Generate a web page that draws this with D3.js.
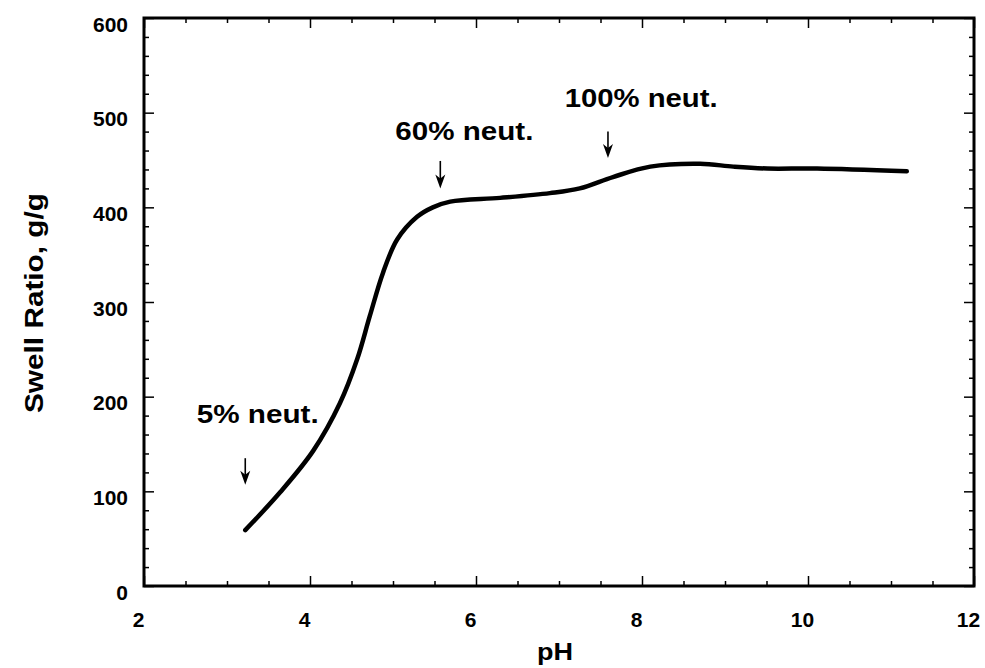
<!DOCTYPE html>
<html>
<head>
<meta charset="utf-8">
<script src="https://cdn.jsdelivr.net/npm/d3@7"></script>
<style>
  body { margin: 0; background: #fff; }
  svg text { font-family: "Liberation Sans", Arial, Helvetica, sans-serif; font-weight: bold; fill: #000; }
</style>
</head>
<body>
<div id="chart"></div>
<script>
// swell ratio curve
const phValues    = [3.22, 3.64, 4.04, 4.36, 4.57, 4.72, 4.88, 5.05, 5.29, 5.48, 5.69, 6.29, 6.89, 7.25, 7.65, 8.10, 8.70, 9.10, 9.51, 10.11, 11.19];
const swellValues = [59, 99, 143, 193, 240, 285, 331, 366, 390, 400, 406, 410, 415, 420, 432, 443, 446, 443, 441, 441, 438];

const xTicks = [2, 4, 6, 8, 10, 12];
const yTicks = [0, 100, 200, 300, 400, 500, 600];

// annotation labels with arrows (pH, arrow top/bottom in g/g, label anchor)
const noteLabels = ["5% neut.", "60% neut.", "100% neut."];
const notePh     = [3.22, 5.57, 7.59];
const noteTop    = [135, 449, 480];
const noteBottom = [107, 420, 452];
const noteTextPh = [3.37, 5.86, 7.99];
const noteTextY  = [172, 471, 506];

const W = 985, H = 668;

const svg = d3.select("#chart")
    .append("svg")
    .attr("width", W)
    .attr("height", H);

const x = d3.scaleLinear().domain([2, 12]).range([144, 974]);
const y = d3.scaleLinear().domain([0, 600]).range([586, 18]);

const minorX = d3.range(2, 12.01, 0.5).filter(v => !xTicks.includes(v));
const minorY = d3.range(0, 600.1, 20).filter(v => !yTicks.includes(v));

function styleAxis(g) {
    g.select(".domain").remove();
    g.selectAll(".tick line").attr("stroke", "#000").attr("stroke-width", 1.5);
}

// bottom axis (major with labels)
svg.append("g")
    .attr("transform", `translate(0,${y(0)})`)
    .call(d3.axisBottom(x).tickValues(xTicks).tickSize(-10).tickPadding(26).tickFormat(d3.format("d")))
    .call(styleAxis)
    .call(g => g.selectAll("text")
        .attr("dx", -6)
        .style("font-size", "21px"));

svg.append("g")
    .attr("transform", `translate(0,${y(0)})`)
    .call(d3.axisBottom(x).tickValues(minorX).tickSize(-5).tickFormat(""))
    .call(styleAxis);

// top axis mirrored
svg.append("g")
    .attr("transform", `translate(0,${y(600)})`)
    .call(d3.axisTop(x).tickValues(xTicks).tickSize(-10).tickFormat(""))
    .call(styleAxis);
svg.append("g")
    .attr("transform", `translate(0,${y(600)})`)
    .call(d3.axisTop(x).tickValues(minorX).tickSize(-5).tickFormat(""))
    .call(styleAxis);

// left axis
svg.append("g")
    .attr("transform", `translate(${x(2)},0)`)
    .call(d3.axisLeft(y).tickValues(yTicks).tickSize(-10).tickPadding(16).tickFormat(d3.format("d")))
    .call(styleAxis)
    .call(g => g.selectAll("text")
        .attr("dy", "0.62em")
        .style("font-size", "21px"));
svg.append("g")
    .attr("transform", `translate(${x(2)},0)`)
    .call(d3.axisLeft(y).tickValues(minorY).tickSize(-5).tickFormat(""))
    .call(styleAxis);

// right axis mirrored
svg.append("g")
    .attr("transform", `translate(${x(12)},0)`)
    .call(d3.axisRight(y).tickValues(yTicks).tickSize(-10).tickFormat(""))
    .call(styleAxis);
svg.append("g")
    .attr("transform", `translate(${x(12)},0)`)
    .call(d3.axisRight(y).tickValues(minorY).tickSize(-5).tickFormat(""))
    .call(styleAxis);

// frame
svg.append("rect")
    .attr("x", x(2))
    .attr("y", y(600))
    .attr("width", x(12) - x(2))
    .attr("height", y(0) - y(600))
    .attr("fill", "none")
    .attr("stroke", "#000")
    .attr("stroke-width", 3);

// axis titles
svg.append("text")
    .attr("x", 555)
    .attr("y", 660)
    .attr("text-anchor", "middle")
    .attr("textLength", 36)
    .attr("lengthAdjust", "spacingAndGlyphs")
    .style("font-size", "24px")
    .text("pH");

svg.append("text")
    .attr("transform", "translate(43,303) rotate(-90)")
    .attr("text-anchor", "middle")
    .attr("textLength", 220)
    .attr("lengthAdjust", "spacingAndGlyphs")
    .style("font-size", "26px")
    .text("Swell Ratio, g/g");

// the curve
const pts = phValues.map((p, i) => [p, swellValues[i]]);
svg.append("path")
    .datum(pts)
    .attr("fill", "none")
    .attr("stroke", "#000")
    .attr("stroke-width", 4.5)
    .attr("stroke-linecap", "round")
    .attr("d", d3.line()
        .x(d => x(d[0]))
        .y(d => y(d[1]))
        .curve(d3.curveCatmullRom.alpha(0.5)));

// annotations
const noteWidths = [122, 138, 153];
noteLabels.forEach((label, i) => {
    const ax = x(notePh[i]);
    const y0 = y(noteTop[i]), y1 = y(noteBottom[i]);
    svg.append("line")
        .attr("x1", ax).attr("x2", ax)
        .attr("y1", y0).attr("y2", y1 - 8)
        .attr("stroke", "#000")
        .attr("stroke-width", 1.6);
    svg.append("path")
        .attr("d", `M${ax - 5},${y1 - 14} L${ax},${y1 - 10} L${ax + 5},${y1 - 14} L${ax},${y1} Z`)
        .attr("fill", "#000");
    svg.append("text")
        .attr("x", x(noteTextPh[i]))
        .attr("y", y(noteTextY[i]))
        .attr("text-anchor", "middle")
        .attr("textLength", noteWidths[i])
        .attr("lengthAdjust", "spacingAndGlyphs")
        .style("font-size", "25px")
        .text(label);
});
</script>
</body>
</html>
